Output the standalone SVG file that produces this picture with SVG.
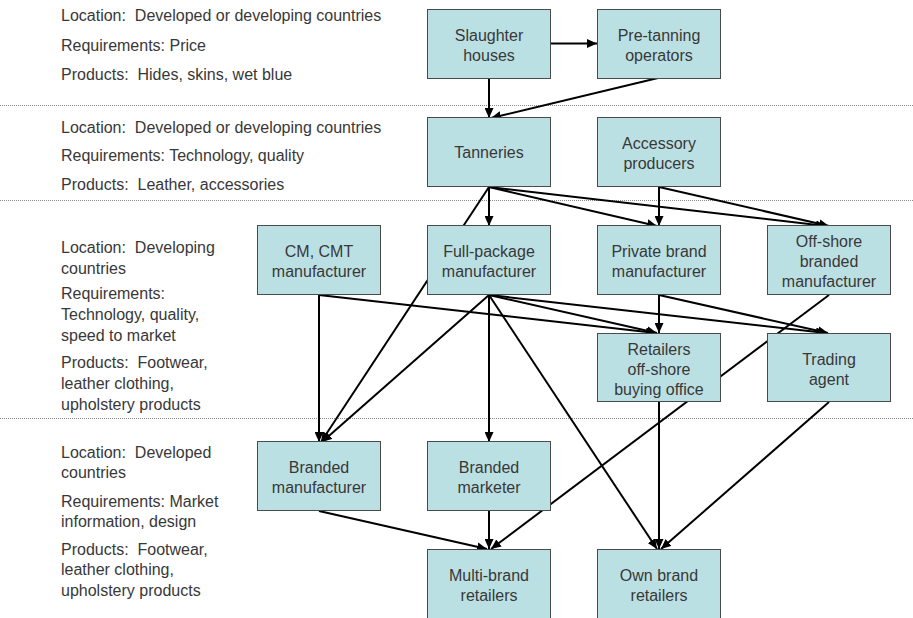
<svg xmlns="http://www.w3.org/2000/svg" width="913" height="618" viewBox="0 0 913 618">
<style>
.bg{fill:#ffffff}
.sep{stroke:#8a8a8a;stroke-width:1;stroke-dasharray:1 1;fill:none}
.lt{font-family:"Liberation Sans",Arial,sans-serif;font-size:16px;fill:#383838;white-space:pre}
.box{fill:#bbe0e3;stroke:#4a4a4a;stroke-width:1}
.nt{font-family:"Liberation Sans",Arial,sans-serif;font-size:16px;fill:#383838;text-anchor:middle}
.c{stroke:#000000;stroke-width:2;fill:none;marker-end:url(#ah)}
</style>
<defs>
<marker id="ah" markerUnits="userSpaceOnUse" markerWidth="10" markerHeight="9" refX="10" refY="4.5" orient="auto">
<path d="M0,0 L10,4.5 L0,9 z" fill="#000000"/>
</marker>
</defs>
<rect class="bg" x="0" y="0" width="913" height="618"/>

<g id="separators">
<line class="sep" x1="0" y1="105.5" x2="913" y2="105.5"/>
<line class="sep" x1="0" y1="200.5" x2="913" y2="200.5"/>
<line class="sep" x1="0" y1="418.5" x2="913" y2="418.5"/>
</g>

<g id="tier-labels">
<text class="lt" x="61" y="21" xml:space="preserve">Location:  Developed or developing countries</text>
<text class="lt" x="61" y="51">Requirements: Price</text>
<text class="lt" x="61" y="80" xml:space="preserve">Products:  Hides, skins, wet blue</text>
<text class="lt" x="61" y="133" xml:space="preserve">Location:  Developed or developing countries</text>
<text class="lt" x="61" y="161">Requirements: Technology, quality</text>
<text class="lt" x="61" y="190" xml:space="preserve">Products:  Leather, accessories</text>
<text class="lt" x="61" y="253" xml:space="preserve">Location:  Developing</text>
<text class="lt" x="61" y="274">countries</text>
<text class="lt" x="61" y="299">Requirements:</text>
<text class="lt" x="61" y="320">Technology, quality,</text>
<text class="lt" x="61" y="341">speed to market</text>
<text class="lt" x="61" y="368" xml:space="preserve">Products:  Footwear,</text>
<text class="lt" x="61" y="389">leather clothing,</text>
<text class="lt" x="61" y="410">upholstery products</text>
<text class="lt" x="61" y="458" xml:space="preserve">Location:  Developed</text>
<text class="lt" x="61" y="478">countries</text>
<text class="lt" x="61" y="507">Requirements: Market</text>
<text class="lt" x="61" y="527">information, design</text>
<text class="lt" x="61" y="555" xml:space="preserve">Products:  Footwear,</text>
<text class="lt" x="61" y="575">leather clothing,</text>
<text class="lt" x="61" y="596">upholstery products</text>
</g>

<g id="connectors">
<line class="c" x1="550" y1="43.5" x2="597" y2="43.5"/>
<line class="c" x1="489" y1="78" x2="489" y2="118"/>
<line class="c" x1="658" y1="78" x2="491" y2="118"/>
<line class="c" x1="489" y1="187" x2="489" y2="226"/>
<line class="c" x1="489" y1="187" x2="657" y2="226"/>
<line class="c" x1="489" y1="187" x2="826" y2="226"/>
<line class="c" x1="489" y1="187" x2="321" y2="442"/>
<line class="c" x1="659" y1="187" x2="659" y2="226"/>
<line class="c" x1="659" y1="187" x2="829" y2="226"/>
<line class="c" x1="319" y1="295" x2="319" y2="442"/>
<line class="c" x1="319" y1="295" x2="656" y2="333"/>
<line class="c" x1="489" y1="295" x2="322" y2="442"/>
<line class="c" x1="489" y1="295" x2="489" y2="442"/>
<line class="c" x1="489" y1="295" x2="657" y2="333"/>
<line class="c" x1="489" y1="295" x2="826" y2="333"/>
<line class="c" x1="489" y1="295" x2="657" y2="549"/>
<line class="c" x1="659" y1="295" x2="659" y2="333"/>
<line class="c" x1="659" y1="295" x2="828" y2="333"/>
<line class="c" x1="829" y1="295" x2="491" y2="549"/>
<line class="c" x1="659" y1="402" x2="659" y2="549"/>
<line class="c" x1="829" y1="402" x2="661" y2="549"/>
<line class="c" x1="319" y1="511" x2="487" y2="549"/>
<line class="c" x1="489" y1="511" x2="489" y2="549"/>
</g>

<g id="slaughter-houses">
<rect class="box" x="427.5" y="9.5" width="123" height="69"/>
<text class="nt" x="489" y="41">Slaughter</text>
<text class="nt" x="489" y="61">houses</text>
</g>
<g id="pre-tanning-operators">
<rect class="box" x="597.5" y="9.5" width="123" height="69"/>
<text class="nt" x="659" y="41">Pre-tanning</text>
<text class="nt" x="659" y="61">operators</text>
</g>
<g id="tanneries">
<rect class="box" x="427.5" y="117.5" width="123" height="69"/>
<text class="nt" x="489" y="158">Tanneries</text>
</g>
<g id="accessory-producers">
<rect class="box" x="597.5" y="117.5" width="123" height="69"/>
<text class="nt" x="659" y="149">Accessory</text>
<text class="nt" x="659" y="169">producers</text>
</g>
<g id="cm-cmt-manufacturer">
<rect class="box" x="257.5" y="225.5" width="123" height="69"/>
<text class="nt" x="319" y="257">CM, CMT</text>
<text class="nt" x="319" y="277">manufacturer</text>
</g>
<g id="full-package-manufacturer">
<rect class="box" x="427.5" y="225.5" width="123" height="69"/>
<text class="nt" x="489" y="257">Full-package</text>
<text class="nt" x="489" y="277">manufacturer</text>
</g>
<g id="private-brand-manufacturer">
<rect class="box" x="597.5" y="225.5" width="123" height="69"/>
<text class="nt" x="659" y="257">Private brand</text>
<text class="nt" x="659" y="277">manufacturer</text>
</g>
<g id="off-shore-branded-manufacturer">
<rect class="box" x="767.5" y="225.5" width="123" height="69"/>
<text class="nt" x="829" y="247">Off-shore</text>
<text class="nt" x="829" y="267">branded</text>
<text class="nt" x="829" y="287">manufacturer</text>
</g>
<g id="retailers-off-shore-buying-office">
<rect class="box" x="597.5" y="333.5" width="123" height="68"/>
<text class="nt" x="659" y="355">Retailers</text>
<text class="nt" x="659" y="375">off-shore</text>
<text class="nt" x="659" y="395">buying office</text>
</g>
<g id="trading-agent">
<rect class="box" x="767.5" y="333.5" width="123" height="68"/>
<text class="nt" x="829" y="365">Trading</text>
<text class="nt" x="829" y="385">agent</text>
</g>
<g id="branded-manufacturer">
<rect class="box" x="257.5" y="441.5" width="123" height="69"/>
<text class="nt" x="319" y="473">Branded</text>
<text class="nt" x="319" y="493">manufacturer</text>
</g>
<g id="branded-marketer">
<rect class="box" x="427.5" y="441.5" width="123" height="69"/>
<text class="nt" x="489" y="473">Branded</text>
<text class="nt" x="489" y="493">marketer</text>
</g>
<g id="multi-brand-retailers">
<rect class="box" x="427.5" y="549.5" width="123" height="69"/>
<text class="nt" x="489" y="581">Multi-brand</text>
<text class="nt" x="489" y="601">retailers</text>
</g>
<g id="own-brand-retailers">
<rect class="box" x="597.5" y="549.5" width="123" height="69"/>
<text class="nt" x="659" y="581">Own brand</text>
<text class="nt" x="659" y="601">retailers</text>
</g>
</svg>
